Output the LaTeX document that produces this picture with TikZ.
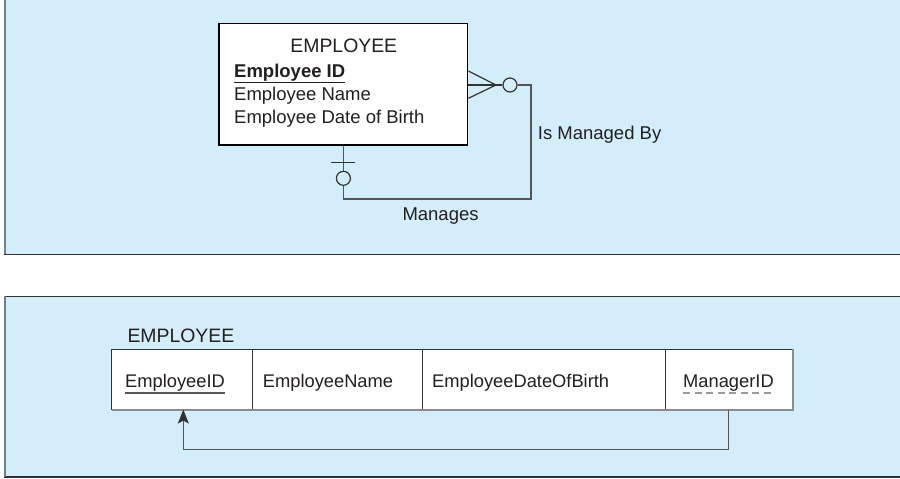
\documentclass[tikz,border=0pt]{standalone}
\usepackage{fontspec}
\setmainfont{Liberation Sans}
\usetikzlibrary{arrows.meta,calc}
\definecolor{panelbg}{RGB}{212,237,250}
\definecolor{edgegray}{RGB}{110,127,136}
\definecolor{linedark}{RGB}{50,50,50}
\definecolor{conn}{RGB}{85,85,85}
\definecolor{txt}{RGB}{35,31,32}
\newcommand{\bodyfont}{\fontsize{18.5bp}{22bp}\selectfont}
\newcommand{\tabfont}{\fontsize{18.3bp}{22bp}\selectfont}
\newcommand{\titlefont}{\fontsize{19.4bp}{23bp}\selectfont}
\tikzset{
  panel/.style={fill=panelbg,draw=none},
  paneledge/.style={draw=linedark,line width=1.6bp},
  leftedge/.style={draw=edgegray,line width=1.8bp},
  entitybox/.style={draw=black,fill=white,line width=1.3bp,inner sep=0,minimum width=248.7bp,minimum height=121.7bp},
  lbl/.style={inner sep=0,text=txt,anchor=base west},
  connline/.style={draw=conn,line width=1.4bp},
  crowline/.style={draw=linedark,line width=1.2bp},
  optcircle/.style={circle,draw=linedark,line width=1.2bp,minimum size=14bp,inner sep=0,fill=panelbg},
  cell/.style={draw=linedark,fill=white,line width=1bp,inner sep=0,minimum height=59.7bp},
}
\begin{document}
\begin{tikzpicture}[x=1bp,y=-1bp]
\useasboundingbox (0,0) rectangle (900,479);
% panels
\fill[white] (0,0) rectangle (900,479);
\path[panel] (5,0) rectangle (900,254.5);
\path[panel] (5,296.5) rectangle (900,476.7);
\draw[paneledge] (4,254.5) -- (900,254.5);
\draw[paneledge] (4,296.5) -- (900,296.5);
\draw[paneledge] (4,476.7) -- (900,476.7);
\draw[leftedge] (4.8,0) -- (4.8,254.5);
\draw[leftedge] (4.8,296.5) -- (4.8,476.7);

% ===== top: ER entity =====
\node[entitybox] (e) at (343.4,84.2) {};
\node[lbl,anchor=base] (etitle) at (343.8,52.7) {\titlefont EMPLOYEE};
\node[lbl] (eid) at (234,77.7) {\bodyfont\bfseries Employee ID};
\draw[line width=1.2bp,draw=txt] (eid.base west) ++(0,4.6) -- ($(eid.base east)+(0,4.6)$);
\node[lbl] (ename) at (234,100.7) {\bodyfont Employee Name};
\node[lbl] (edob) at (234,123.5) {\bodyfont Employee Date of Birth};

% relationship
\node[optcircle] (o1) at (510,85) {};
\node[optcircle] (o2) at (343.4,178.3) {};
\coordinate (cf) at (496,85);
\coordinate (r1) at (531,85);
\coordinate (r2) at (531,199);
\draw[crowline] (e.east |- 0,71) -- (cf) -- (e.east |- 0,98.3);
\draw[crowline] (e.east |- 0,85) -- (o1.west);
\draw[connline] (o1.east) -- (r1) -- (r2) -| (o2.south);
\draw[connline] (o2.north) -- (e.south);
\draw[crowline] ($(e.south)+(-12,16.7)$) -- ++(24,0);
\node[lbl] (lmb) at (537.7,139.3) {\bodyfont Is Managed By};
\node[lbl] (lm) at (402.3,221) {\bodyfont Manages};

% ===== bottom: relation =====
\node[lbl] (rtitle) at (127.3,342.7) {\titlefont EMPLOYEE};
\node[cell,minimum width=140.6bp] (c1) at (182,379.2) {};
\node[cell,minimum width=170.4bp] (c2) at (337.5,379.2) {};
\node[cell,minimum width=242.6bp] (c3) at (544,379.2) {};
\node[cell,minimum width=126.7bp] (c4) at (728.65,379.2) {};
\draw[draw=black!45,line width=2.2bp] (111.7,410) -- (793,410) -- (793,349.3);
\node[lbl] (t1) at (125,387) {\tabfont EmployeeID};
\draw[draw=conn,line width=1.3bp] ($(t1.base west)+(0,6)$) -- ($(t1.base east)+(0,6)$);
\node[lbl] (t2) at (262.7,387) {\tabfont EmployeeName};
\node[lbl] (t3) at (432,387) {\tabfont EmployeeDateOfBirth};
\node[lbl] (t4) at (683,387) {\tabfont ManagerID};
\draw[draw=black!40,line width=1.5bp,dash pattern=on 7bp off 4.5bp] ($(t4.base west)+(0,6)$) -- ($(t4.base east)+(-3,6)$);
\draw[connline,-{Stealth[length=14bp,width=11bp,inset=3bp,color=linedark]}] (c4.south) -- ++(0,40) -| ($(c1.south)+(1.3,0)$);
\end{tikzpicture}
\end{document}
